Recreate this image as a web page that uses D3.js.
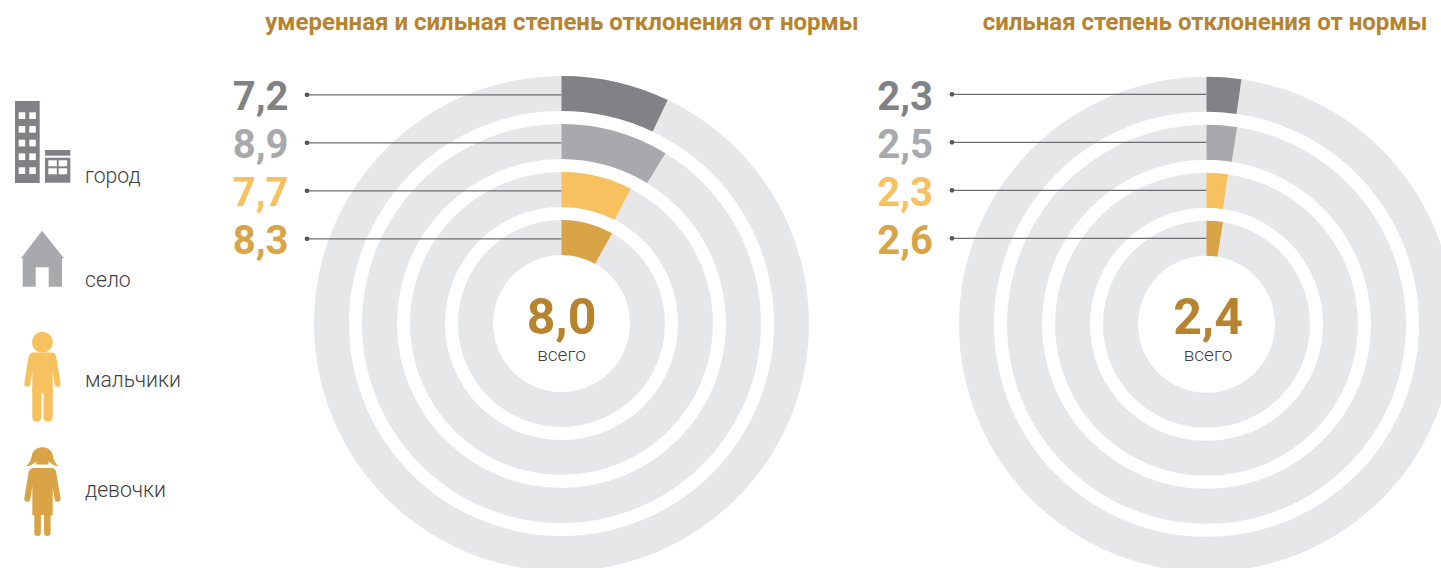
<!DOCTYPE html>
<html lang="ru">
<head>
<meta charset="utf-8">
<title>Отклонения от нормы</title>
<style>
    html, body { margin: 0; padding: 0; background: #fff; }
    svg { display: block; font-family: Roboto, sans-serif; }
</style>
<script src="https://cdn.jsdelivr.net/npm/d3@7"></script>
</head>
<body>
<div id="chart"></div>
<script>
// data
var categories = ["город", "село", "мальчики", "девочки"];
var colors = ["#808285", "#a7a9ac", "#f6c15e", "#d8a446"];
var titles = ["умеренная и сильная степень отклонения от нормы", "сильная степень отклонения от нормы"];
var moderateValues = [7.2, 8.9, 7.7, 8.3];
var severeValues = [2.3, 2.5, 2.3, 2.6];
var totals = [8.0, 2.4];
var totalLabel = "всего";

var width = 1441, height = 568;
var accent = "#b7832e";
var textColor = "#414042";
var ringColor = "#e6e7e8";
var lineColor = "#6d6e71";

var panels = [
    {title: titles[0], values: moderateValues, total: totals[0], cx: 561.5, cy: 323.5, titleX: 562, lineX: 307, labelX: 288.5, totalX: 561.5, dy: 1.3},
    {title: titles[1], values: severeValues, total: totals[1], cx: 1206.5, cy: 324.3, titleX: 1205, lineX: 952, labelX: 933, totalX: 1208, dy: 0}
];

var svg = d3.select("#chart").append("svg")
    .attr("width", width)
    .attr("height", height);

var fmt = function (v) { return d3.format(".1f")(v).replace(".", ","); };

// rings: outer one is the first category
var radius = d3.scaleBand().domain(categories.slice().reverse()).range([68.5, 247.5]).paddingInner(13 / 48);
var angle = d3.scaleLinear().domain([0, 100]).range([0, 2 * Math.PI * 0.98]);
var arc = d3.arc();

panels.forEach(function (p) {
    var g = svg.append("g");

    g.append("text")
        .attr("x", p.titleX).attr("y", 29.5)
        .attr("text-anchor", "middle")
        .attr("font-size", 24).attr("font-weight", 700)
        .attr("fill", accent)
        .text(p.title);

    var c = g.append("g").attr("transform", "translate(" + p.cx + "," + p.cy + ")");

    c.selectAll(".ring").data(categories).enter().append("path")
        .attr("class", "ring")
        .attr("fill", ringColor)
        .attr("d", function (d) {
            return arc({innerRadius: radius(d), outerRadius: radius(d) + radius.bandwidth(), startAngle: 0, endAngle: 2 * Math.PI});
        });

    c.selectAll(".share").data(categories).enter().append("path")
        .attr("class", "share")
        .attr("fill", function (d, i) { return colors[i]; })
        .attr("d", function (d, i) {
            return arc({innerRadius: radius(d), outerRadius: radius(d) + radius.bandwidth(), startAngle: 0, endAngle: angle(p.values[i])});
        });

    var rowY = function (d) { return p.cy - radius(d) - radius.bandwidth() / 2 + p.dy; };

    g.selectAll(".leader").data(categories).enter().append("line")
        .attr("class", "leader")
        .attr("x1", p.lineX).attr("x2", p.cx)
        .attr("y1", rowY).attr("y2", rowY)
        .attr("stroke", lineColor).attr("stroke-width", 1.3);

    g.selectAll(".dot").data(categories).enter().append("circle")
        .attr("class", "dot")
        .attr("cx", p.lineX).attr("cy", rowY).attr("r", 2.4)
        .attr("fill", "#58595b");

    g.selectAll(".val").data(categories).enter().append("text")
        .attr("class", "val")
        .attr("x", p.labelX)
        .attr("y", function (d) { return rowY(d) + 15.5; })
        .attr("text-anchor", "end")
        .attr("font-size", 40).attr("font-weight", 700)
        .attr("fill", function (d, i) { return colors[i]; })
        .text(function (d, i) { return fmt(p.values[i]); });

    g.append("text")
        .attr("x", p.totalX).attr("y", 334)
        .attr("text-anchor", "middle")
        .attr("font-size", 50).attr("font-weight", 700)
        .attr("fill", accent)
        .text(fmt(p.total));

    g.append("text")
        .attr("x", p.totalX).attr("y", 361)
        .attr("text-anchor", "middle")
        .attr("font-size", 19).attr("font-weight", 300)
        .attr("fill", textColor)
        .text(totalLabel);
});

// legend
var legendY = [183, 287, 387, 497];
var legend = svg.append("g");

legend.selectAll("text").data(categories).enter().append("text")
    .attr("x", 85)
    .attr("y", function (d, i) { return legendY[i]; })
    .attr("font-size", 21.2).attr("font-weight", 300)
    .attr("fill", textColor)
    .text(function (d) { return d; });

function rect(g, x, y, w, h, fill) {
    g.append("rect").attr("x", x).attr("y", y).attr("width", w).attr("height", h).attr("fill", fill);
}

function drawCity(g, col) {
    rect(g, 15, 101, 24.7, 82, col);
    d3.cross([18.7, 29.3], [112.3, 126, 139.7, 153.4, 167.3]).forEach(function (w) {
        rect(g, w[0], w[1], 6.5, 6.7, "#fff");
    });
    rect(g, 45, 150, 25.3, 5.7, col);
    rect(g, 45, 157.7, 25.3, 25, col);
    d3.cross([48.3, 58.7], [160.3, 168.3]).forEach(function (w) {
        rect(g, w[0], w[1], 8.5, 6, "#fff");
    });
}

function drawHouse(g, col) {
    g.append("path").attr("fill", col)
        .attr("d", "M42,230.7L64,258.3H62V286.7H48.7V267.3H35.7V286.7H22.7V258.3H21Z");
}

function limb(g, x1, y1, x2, y2, w, col) {
    g.append("line").attr("x1", x1).attr("y1", y1).attr("x2", x2).attr("y2", y2)
        .attr("stroke", col).attr("stroke-width", w).attr("stroke-linecap", "round");
}

function drawBoy(g, col) {
    g.append("circle").attr("cx", 42.4).attr("cy", 342.3).attr("r", 10.5).attr("fill", col);
    g.append("path").attr("fill", col)
        .attr("d", "M33,352.5H52Q55,352.5 55.5,356L52.7,372V393H32.3V372L29.5,356Q30,352.5 33,352.5Z");
    limb(g, 31.6, 357, 27.3, 383.7, 6, col);
    limb(g, 53.2, 357, 57.6, 383.7, 6, col);
    limb(g, 36.9, 390, 36.9, 417.2, 9.2, col);
    limb(g, 48.1, 390, 48.1, 417.2, 9.2, col);
}

function drawGirl(g, col) {
    // hair with two pigtails
    g.append("path").attr("fill", col)
        .attr("d", "M42.4,447.2C48.5,447.2 52.5,451.5 53,456C53.3,459.5 55.5,463.5 58.5,466.2C54,466 51,463.5 48.5,461.5V464.5H36.3V461.5C33.8,463.5 30.8,466 26,466.2C29.2,463.5 31.4,459.5 31.7,456C32.2,451.5 36.3,447.2 42.4,447.2Z");
    g.append("path").attr("fill", col)
        .attr("d", "M33,468H52Q55,468 55.5,471.5L52.7,487V515H32.3V487L29.5,471.5Q30,468 33,468Z");
    limb(g, 31.6, 472.5, 27.3, 498.7, 6, col);
    limb(g, 53.2, 472.5, 57.6, 498.7, 6, col);
    limb(g, 37.6, 512, 37.6, 532.8, 6.6, col);
    limb(g, 47.3, 512, 47.3, 532.8, 6.6, col);
}

[drawCity, drawHouse, drawBoy, drawGirl].forEach(function (draw, i) {
    draw(legend.append("g"), colors[i]);
});
</script>
</body>
</html>
